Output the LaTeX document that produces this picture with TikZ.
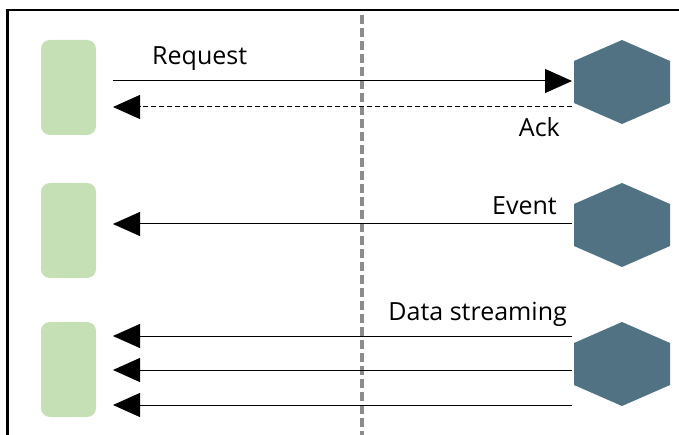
\documentclass[tikz,border=0pt]{standalone}
\usepackage{fontspec}
\setmainfont{Open Sans}
\usetikzlibrary{arrows.meta,shapes.geometric}
\definecolor{cgreen}{HTML}{C5E0B4}
\definecolor{chex}{HTML}{507282}
\begin{document}
\begin{tikzpicture}[x=1pt,y=-1pt,
  client/.style={fill=cgreen,rounded corners=9pt},
  server/.style={fill=chex},
  msg/.style={line width=1pt,-{Triangle[length=27pt,width=24pt]}},
  lbl/.style={font=\fontsize{25}{28}\selectfont,inner sep=0pt}]
\useasboundingbox (0,0) rectangle (679,435);
\draw[line width=2.5pt] (679,10) -- (7.5,10) -- (7.5,435);
\draw[gray!90,line width=4pt,dash pattern=on 9pt off 4pt] (362,15) -- (362,435);
% clients
\foreach \y in {40,183,322}{
  \fill[client] (41,\y) rectangle (96,\y+95);
}
% servers
\foreach \y in {40,183,322}{
  \fill[server] (622,\y) -- (670,\y+21) -- (670,\y+63) -- (622,\y+84) -- (574,\y+63) -- (574,\y+21) -- cycle;
}
\coordinate (sR) at (572,81);
\coordinate (cR) at (113,81);
\coordinate (sA) at (572,107);
\coordinate (cA) at (113,107);
\coordinate (sE) at (572,224);
\coordinate (cE) at (113,224);
\coordinate (sD1) at (572,336);
\coordinate (cD1) at (113,336);
\coordinate (sD2) at (572,370);
\coordinate (cD2) at (113,370);
\coordinate (sD3) at (572,405);
\coordinate (cD3) at (113,405);
\draw[msg] (cR) -- (sR);
\draw[msg,dash pattern=on 5pt off 3pt] (sA) -- (cA);
\draw[msg] (sE) -- (cE);
\draw[msg] (sD1) -- (cD1);
\draw[msg] (sD2) -- (cD2);
\draw[msg] (sD3) -- (cD3);
\node[lbl,anchor=base west] (lR) at (152,65) {Request};
\node[lbl,anchor=base east] (lA) at (560,137) {Ack};
\node[lbl,anchor=base east] (lE) at (557,215) {Event};
\node[lbl,anchor=base east] (lD) at (567,320) {Data streaming};
\end{tikzpicture}
\end{document}
